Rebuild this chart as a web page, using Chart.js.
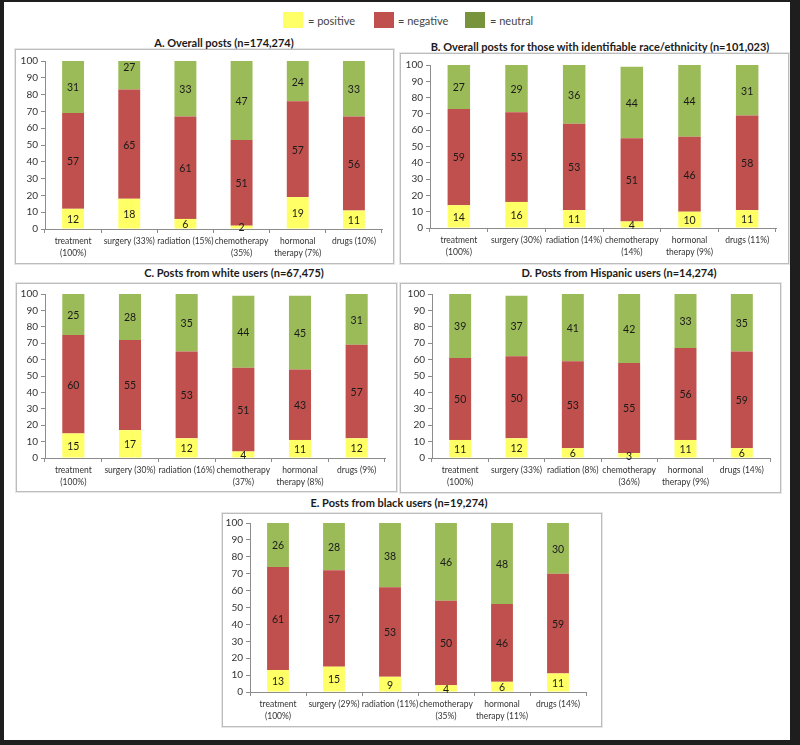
<!DOCTYPE html>
<html>
<head>
<meta charset="utf-8">
<script src="https://cdn.jsdelivr.net/npm/chart.js@4.4.0/dist/chart.umd.min.js"></script>
<style>
  body { margin: 0; background: #fff; }
  #frame { position: absolute; left: 0; top: 0; width: 786px; height: 738px;
           border-style: solid; border-color: #1e1e1e; border-width: 2px 10px 5px 4px;
           background: #fff; overflow: hidden; font-family: Lato, "Open Sans", sans-serif; }
  .box { position: absolute; border: 1px solid #bcbcbc; box-shadow: 0 0 0 1px #e6e6e6; }
  .title { position: absolute; transform: translate(-50%, -50%); white-space: nowrap;
           font-weight: bold; font-size: 11px; color: #1a1a1a; }
  .sw { position: absolute; width: 20px; height: 16px; }
  .lt { position: absolute; font-size: 11px; color: #444; transform: translateY(-50%); }
  canvas { position: absolute; }
</style>
</head>
<body>
<div id="frame"></div>
<script>
// categories (category labels differ per panel because of the share in brackets)
const labelsA = [["treatment", "(100%)"], "surgery (33%)", "radiation (15%)", ["chemotherapy", "(35%)"], ["hormonal", "therapy (7%)"], "drugs (10%)"];
const labelsB = [["treatment", "(100%)"], "surgery (30%)", "radiation (14%)", ["chemotherapy", "(14%)"], ["hormonal", "therapy (9%)"], "drugs (11%)"];
const labelsC = [["treatment", "(100%)"], "surgery (30%)", "radiation (16%)", ["chemotherapy", "(37%)"], ["hormonal", "therapy (8%)"], "drugs (9%)"];
const labelsD = [["treatment", "(100%)"], "surgery (33%)", "radiation (8%)", ["chemotherapy", "(36%)"], ["hormonal", "therapy (9%)"], "drugs (14%)"];
const labelsE = [["treatment", "(100%)"], "surgery (29%)", "radiation (11%)", ["chemotherapy", "(35%)"], ["hormonal", "therapy (11%)"], "drugs (14%)"];

// series values
const positiveA = [12, 18, 6, 2, 19, 11];
const negativeA = [57, 65, 61, 51, 57, 56];
const neutralA  = [31, 27, 33, 47, 24, 33];

const positiveB = [14, 16, 11, 4, 10, 11];
const negativeB = [59, 55, 53, 51, 46, 58];
const neutralB  = [27, 29, 36, 44, 44, 31];

const positiveC = [15, 17, 12, 4, 11, 12];
const negativeC = [60, 55, 53, 51, 43, 57];
const neutralC  = [25, 28, 35, 44, 45, 31];

const positiveD = [11, 12, 6, 3, 11, 6];
const negativeD = [50, 50, 53, 55, 56, 59];
const neutralD  = [39, 37, 41, 42, 33, 35];

const positiveE = [13, 15, 9, 4, 6, 11];
const negativeE = [61, 57, 53, 50, 46, 59];
const neutralE  = [26, 28, 38, 46, 48, 30];

const yTicks = [0, 10, 20, 30, 40, 50, 60, 70, 80, 90, 100];

const titles = [
  "A. Overall posts (n=174,274)",
  "B. Overall posts for those with identifiable race/ethnicity (n=101,023)",
  "C. Posts from white users (n=67,475)",
  "D. Posts from Hispanic users (n=14,274)",
  "E. Posts from black users (n=19,274)"
];

const legendNames = ["= positive", "= negative", "= neutral"];

const YELLOW = "#ffff66", RED = "#c0504d", GREEN = "#9bbb59", LEGEND_GREEN = "#77933c";

const frame = document.getElementById("frame");
// frame has a 4px left / 2px top border; page coords -> inside coords
const OX = 4, OY = 2;

function put(el, x, y) {
  el.style.left = (x - OX) + "px";
  el.style.top = (y - OY) + "px";
  frame.appendChild(el);
}

// legend
[[YELLOW, 283, 308], [RED, 374, 398], [LEGEND_GREEN, 465, 490]].forEach((l, i) => {
  const sw = document.createElement("div");
  sw.className = "sw";
  sw.style.background = l[0];
  put(sw, l[1], 12);
  const t = document.createElement("div");
  t.className = "lt";
  t.textContent = legendNames[i];
  put(t, l[2], 20);
});

// numbers inside the bar segments
const segLabels = {
  id: "segLabels",
  afterDatasetsDraw(chart) {
    const ctx = chart.ctx;
    ctx.save();
    ctx.font = "10.5px Lato, sans-serif";
    ctx.fillStyle = "#1a1a1a";
    ctx.textAlign = "center";
    ctx.textBaseline = "middle";
    chart.data.datasets.forEach((ds, i) => {
      chart.getDatasetMeta(i).data.forEach((bar, j) => {
        ctx.fillText(ds.data[j], bar.x, (bar.y + bar.base) / 2 + 1);
      });
    });
    ctx.restore();
  }
};

const YW = 32, PT = 8, PR = 6, XH = 36;

function panel(p) {
  const box = document.createElement("div");
  box.className = "box";
  box.style.width = (p.box[2] - p.box[0]) + "px";
  box.style.height = (p.box[3] - p.box[1]) + "px";
  put(box, p.box[0], p.box[1]);

  const t = document.createElement("div");
  t.className = "title";
  t.textContent = p.title;
  put(t, p.tx, p.ty);

  const cv = document.createElement("canvas");
  const w = YW + (p.right - p.ax) + PR;
  const h = PT + (p.bottom - p.top) + XH;
  cv.width = w; cv.height = h;
  cv.style.width = w + "px"; cv.style.height = h + "px";
  put(cv, p.ax - YW, p.top - PT);

  new Chart(cv.getContext("2d"), {
    type: "bar",
    data: {
      labels: p.labels,
      datasets: [
        { label: "positive", data: p.pos, backgroundColor: YELLOW },
        { label: "negative", data: p.neg, backgroundColor: RED },
        { label: "neutral", data: p.neu, backgroundColor: GREEN }
      ]
    },
    options: {
      responsive: false,
      animation: false,
      events: [],
      layout: { padding: { top: PT, right: PR, left: 0, bottom: 0 } },
      datasets: { bar: { categoryPercentage: 1, barPercentage: 0.39 } },
      plugins: { legend: { display: false }, tooltip: { enabled: false } },
      scales: {
        x: {
          stacked: true,
          afterFit: s => { s.height = XH; },
          border: { color: "#8c8c8c" },
          grid: { drawOnChartArea: false, color: "#8c8c8c", tickLength: 4 },
          ticks: { color: "#333", font: { family: "Lato", size: 8.5, lineHeight: 1.4 }, maxRotation: 0, autoSkip: false, padding: 2 }
        },
        y: {
          stacked: true,
          min: 0, max: 100,
          afterFit: s => { s.width = YW; },
          afterBuildTicks: s => { s.ticks = yTicks.map(v => ({ value: v })); },
          border: { color: "#8c8c8c" },
          grid: { drawOnChartArea: false, color: "#8c8c8c", tickLength: 4 },
          ticks: { color: "#333", font: { family: "Lato", size: 10 }, padding: 3 }
        }
      }
    },
    plugins: [segLabels]
  });
}

panel({ box: [15, 49, 392, 262], title: titles[0], tx: 224, ty: 42, ax: 45, top: 60, bottom: 229, right: 382,
        labels: labelsA, pos: positiveA, neg: negativeA, neu: neutralA });
panel({ box: [400, 53, 787, 262], title: titles[1], tx: 600, ty: 46, ax: 430, top: 64, bottom: 228, right: 776,
        labels: labelsB, pos: positiveB, neg: negativeB, neu: neutralB });
panel({ box: [16, 283, 395, 490], title: titles[2], tx: 234, ty: 272, ax: 45, top: 293, bottom: 458, right: 385,
        labels: labelsC, pos: positiveC, neg: negativeC, neu: neutralC });
panel({ box: [400, 283, 779, 491], title: titles[3], tx: 619, ty: 272, ax: 432, top: 293, bottom: 458, right: 770,
        labels: labelsD, pos: positiveD, neg: negativeD, neu: neutralD });
panel({ box: [222, 513, 600, 725], title: titles[4], tx: 399, ty: 502, ax: 250, top: 522, bottom: 692, right: 586,
        labels: labelsE, pos: positiveE, neg: negativeE, neu: neutralE });
</script>
</body>
</html>
